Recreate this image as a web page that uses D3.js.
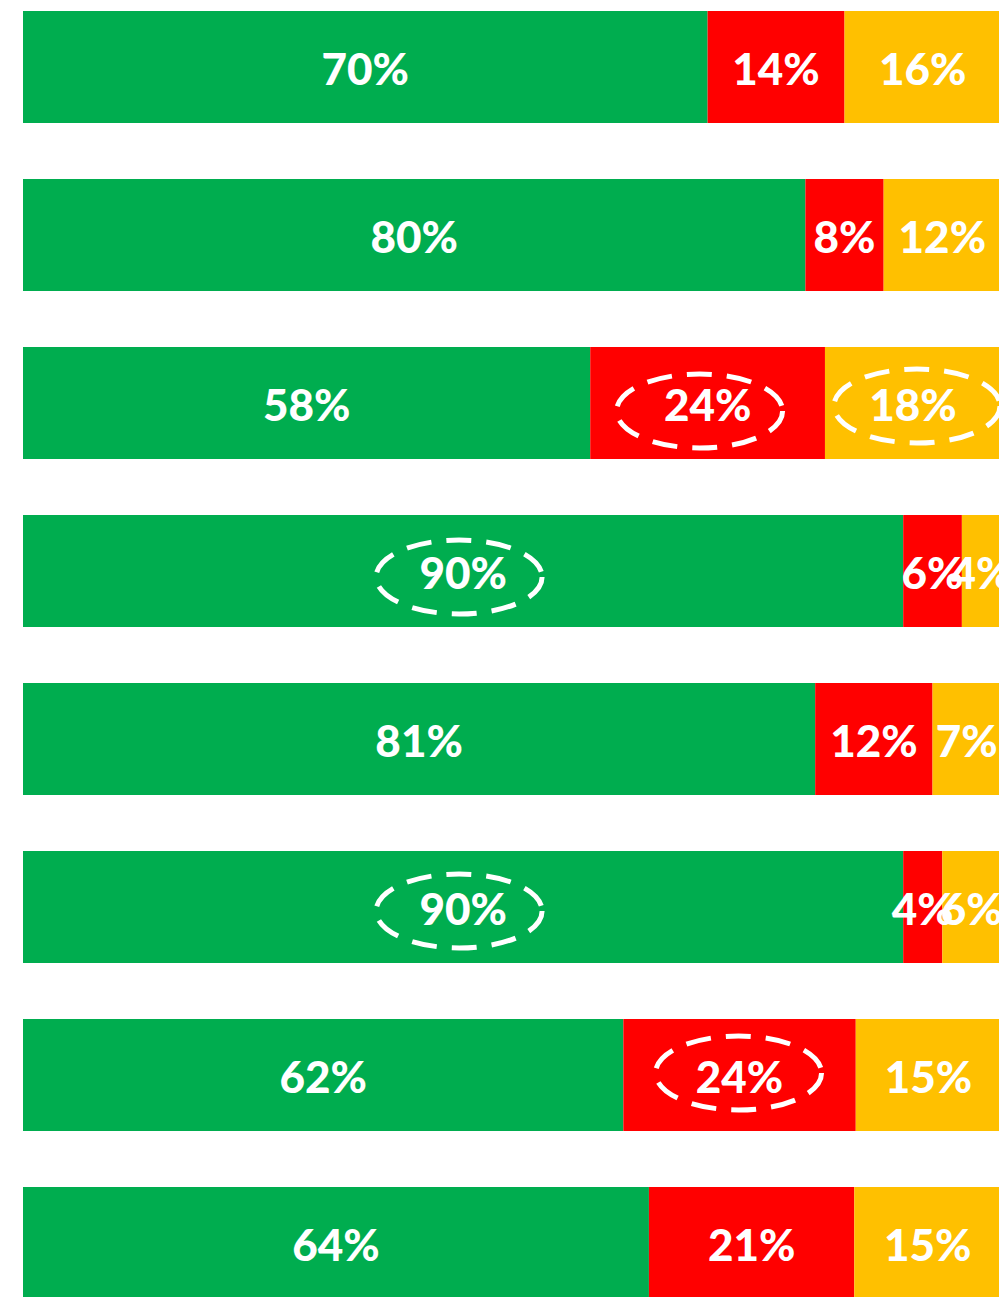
<!DOCTYPE html>
<html>
<head>
<meta charset="utf-8">
<script src="https://cdn.jsdelivr.net/npm/d3@7"></script>
<style>
  html, body { margin: 0; padding: 0; background: #ffffff; }
  svg { display: block; }
  .lbl { font-family: Lato, "DejaVu Sans", sans-serif; font-weight: 900; font-size: 44px; fill: #ffffff; }
</style>
</head>
<body>
<script>
// One row per item; each row is a 100% stacked bar (green / red / amber shares).
const rows = ["r1", "r2", "r3", "r4", "r5", "r6", "r7", "r8"];
const seriesKeys = ["positive", "negative", "neutral"];
const seriesColors = ["#00AD4F", "#FF0000", "#FFC000"];
const positive = [70, 80, 58, 90, 81, 90, 62, 64];
const negative = [14, 8, 24, 6, 12, 4, 24, 21];
const neutral  = [16, 12, 18, 4, 7, 6, 15, 15];

// Segments circled with a dashed outline: row index, series index, nudge of the ring.
const highlights = [
  { row: 2, series: 1, dx: -8, dy: 8 },
  { row: 2, series: 2, dx: 4, dy: 3 },
  { row: 3, series: 0, dx: -4, dy: 6 },
  { row: 5, series: 0, dx: -4, dy: 4 },
  { row: 6, series: 1, dx: -1, dy: -2 }
];

const W = 999, H = 1297;
const svg = d3.select("body").append("svg").attr("width", W).attr("height", H);

const y = d3.scaleBand().domain(rows).range([11, 1299]).paddingInner(1 / 3).paddingOuter(0);
const values = [positive, negative, neutral];

// Build segments: each row normalised by its own total so the bar spans the full width.
const segments = [];
rows.forEach((r, i) => {
  const vals = values.map(v => v[i]);
  const total = d3.sum(vals);
  const x = d3.scaleLinear().domain([0, total]).range([23, 1001]);
  let acc = 0;
  vals.forEach((v, s) => {
    segments.push({ row: r, ri: i, s, value: v, x0: x(acc), x1: x(acc + v) });
    acc += v;
  });
});

const g = svg.append("g");
g.selectAll("rect.seg")
  .data(segments)
  .join("rect")
  .attr("class", "seg")
  .attr("x", d => d.x0)
  .attr("y", d => y(d.row))
  .attr("width", d => d.x1 - d.x0)
  .attr("height", y.bandwidth())
  .attr("fill", d => seriesColors[d.s]);

g.selectAll("text.lbl")
  .data(segments)
  .join("text")
  .attr("class", "lbl")
  .attr("x", d => (d.x0 + d.x1) / 2)
  .attr("y", d => y(d.row) + y.bandwidth() / 2)
  .attr("dy", "0.4em")
  .attr("text-anchor", "middle")
  .text(d => d.value + "%");

// Dashed rings around the called-out values.
g.selectAll("ellipse.ring")
  .data(highlights)
  .join("ellipse")
  .attr("class", "ring")
  .attr("cx", h => {
    const seg = segments.find(d => d.ri === h.row && d.s === h.series);
    return (seg.x0 + seg.x1) / 2 + h.dx;
  })
  .attr("cy", h => y(rows[h.row]) + y.bandwidth() / 2 + h.dy)
  .attr("rx", 83)
  .attr("ry", 37)
  .attr("fill", "none")
  .attr("stroke", "#ffffff")
  .attr("stroke-width", 5)
  .attr("stroke-dasharray", "25,15");
</script>
</body>
</html>
